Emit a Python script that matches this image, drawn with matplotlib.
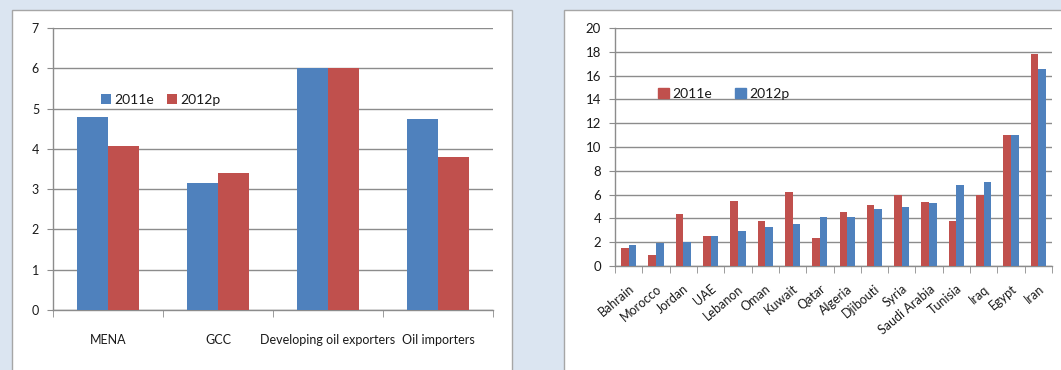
import matplotlib
matplotlib.use("Agg")
import matplotlib.pyplot as plt
import numpy as np
from matplotlib.patches import Rectangle, Patch

plt.rcParams['font.family'] = ['Lato', 'DejaVu Sans']

# ---- data: left chart (regional groups) ----
groups = ["MENA", "GCC", "Developing oil exporters", "Oil importers"]
grp_2011e = [4.8, 3.15, 6.0, 4.75]
grp_2012p = [4.08, 3.4, 6.0, 3.8]

# ---- data: right chart (countries) ----
countries = ["Bahrain", "Morocco", "Jordan", "UAE", "Lebanon", "Oman", "Kuwait", "Qatar",
             "Algeria", "Djibouti", "Syria", "Saudi Arabia", "Tunisia", "Iraq", "Egypt", "Iran"]
cty_2011e = [1.5, 0.9, 4.4, 2.55, 5.5, 3.8, 6.2, 2.35, 4.5, 5.1, 6.0, 5.4, 3.8, 6.0, 11.0, 17.8]
cty_2012p = [1.8, 1.95, 2.0, 2.55, 2.9, 3.3, 3.5, 4.1, 4.1, 4.8, 5.0, 5.3, 6.8, 7.05, 11.0, 16.55]

BLUE = '#4f81bd'
RED = '#c0504d'
GRID = '#8c8c8c'
BG = '#dbe5f1'
TXT = '#1a1a1a'

W, H = 1061, 370
fig = plt.figure(figsize=(W / 100, H / 100), dpi=100)
fig.patch.set_facecolor(BG)

# white panels behind the two charts
for (x0, x1) in [(12, 512), (564, 1075)]:
    fig.patches.append(Rectangle((x0 / W, -0.1), (x1 - x0) / W, 1.1 - 10 / H,
                                 transform=fig.transFigure, facecolor='white',
                                 edgecolor='#a6a6a6', linewidth=1.0, zorder=-5))


def style_axes(ax, n, ymax, ystep, tick_fs):
    ax.set_facecolor('none')
    ax.set_xlim(-0.5, n - 0.5)
    ax.set_ylim(0, ymax)
    ax.set_yticks(np.arange(0, ymax + 0.01, ystep))
    ax.yaxis.grid(True, color=GRID, linewidth=1.0)
    ax.set_axisbelow(True)
    for s in ['top', 'right']:
        ax.spines[s].set_visible(False)
    for s in ['left', 'bottom']:
        ax.spines[s].set_color(GRID)
        ax.spines[s].set_linewidth(1.0)
    ax.set_xticks(np.arange(n))
    ax.set_xticks(np.arange(n + 1) - 0.5, minor=True)
    ax.tick_params(axis='x', which='major', length=0)
    ax.tick_params(axis='x', which='minor', length=5, color=GRID, direction='out')
    ax.tick_params(axis='y', length=4, color=GRID, labelsize=tick_fs, pad=6, labelcolor=TXT)


width = 0.28

# ---- left chart ----
ax1 = fig.add_axes([53 / W, 1 - 310 / H, 440 / W, 282 / H])
x = np.arange(len(groups))
ax1.bar(x - width / 2, grp_2011e, width, color=BLUE, label='2011e', zorder=3)
ax1.bar(x + width / 2, grp_2012p, width, color=RED, label='2012p', zorder=3)
style_axes(ax1, len(groups), 7, 1, 9)
ax1.set_xticklabels(groups, fontsize=9, color=TXT)
ax1.tick_params(axis='x', which='major', pad=17)
ax1.legend(loc='upper left', bbox_to_anchor=(0.08, 0.81), ncol=2, frameon=False,
           fontsize=10, handlelength=0.75, handleheight=0.75, handletextpad=0.25,
           columnspacing=0.9, labelcolor=TXT)

# ---- right chart ----
ax2 = fig.add_axes([615 / W, 1 - 266 / H, 437 / W, 238 / H])
x = np.arange(len(countries))
ax2.bar(x - width / 2, cty_2011e, width, color=RED, zorder=3)
ax2.bar(x + width / 2, cty_2012p, width, color=BLUE, zorder=3)
style_axes(ax2, len(countries), 20, 2, 9.5)
ax2.set_xticklabels(countries, fontsize=9, rotation=40, ha='right',
                    rotation_mode='anchor', color=TXT)
ax2.tick_params(axis='x', which='major', pad=12)
ax2.legend(handles=[Patch(color=RED, label='2011e'), Patch(color=BLUE, label='2012p')],
           loc='upper left', bbox_to_anchor=(0.07, 0.80), ncol=2, frameon=False,
           fontsize=10, handlelength=0.75, handleheight=0.75, handletextpad=0.25,
           columnspacing=1.7, labelcolor=TXT)

fig.savefig('out.png', dpi=100, facecolor=fig.get_facecolor())
